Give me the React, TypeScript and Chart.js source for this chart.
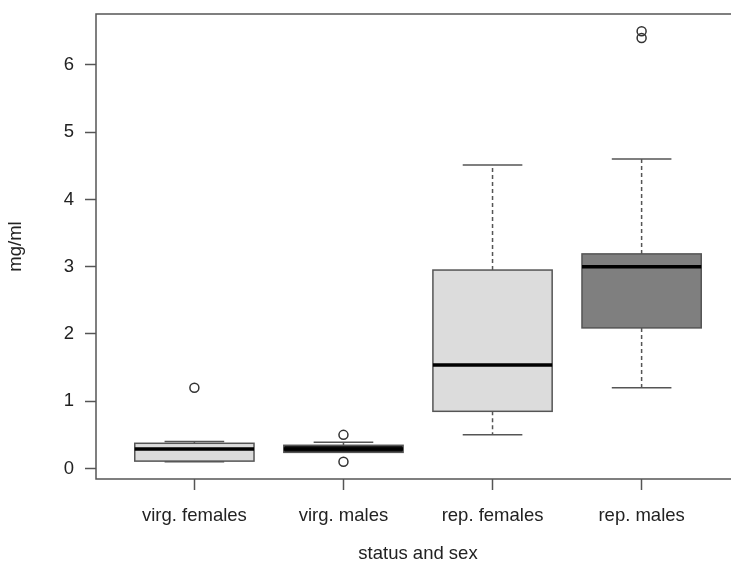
import { useEffect, useRef } from "react";
import { Chart, registerables } from "chart.js";

Chart.register(...registerables);

// ---- data ----
const categories = ["virg. females", "virg. males", "rep. females", "rep. males"];
const lowerWhisker = [0.1, 0.24, 0.5, 1.2];
const q1 = [0.11, 0.24, 0.85, 2.09];
const medians = [0.29, 0.29, 1.54, 3.0];
const q3 = [0.375, 0.345, 2.95, 3.19];
const upperWhisker = [0.4, 0.39, 4.51, 4.6];
const outliers = [[1.2], [0.5, 0.1], [], [6.4, 6.5]];
const boxFills = ["#dcdcdc", "#1c1c1c", "#dcdcdc", "#7f7f7f"];
const yTicks = [0, 1, 2, 3, 4, 5, 6];
const xTitle = "status and sex";
const yTitle = "mg/ml";

// ---- style ----
const FONT = "'Liberation Sans', Arial, Helvetica, sans-serif";
const FONT_SIZE = 18.5;
const LINE = "#555555";
const TEXT = "#222222";
const BOX_HALF = 0.4;
const CAP_HALF = 0.2;
const CANVAS_W = 746;
const CANVAS_H = 566;

const boxPlugin = {
  id: "boxplotDraw",
  beforeDatasetsDraw(chart: any) {
    const { ctx, scales, chartArea } = chart;
    const x = scales.x;
    const y = scales.y;
    ctx.save();
    // plot frame
    ctx.strokeStyle = LINE;
    ctx.lineWidth = 1.5;
    ctx.strokeRect(chartArea.left, chartArea.top, chartArea.right - chartArea.left, chartArea.bottom - chartArea.top);

    categories.forEach((_, i) => {
      const v = i + 1;
      const cx = x.getPixelForValue(v);
      const bl = x.getPixelForValue(v - BOX_HALF);
      const br = x.getPixelForValue(v + BOX_HALF);
      const cl = x.getPixelForValue(v - CAP_HALF);
      const cr = x.getPixelForValue(v + CAP_HALF);
      const pLo = y.getPixelForValue(lowerWhisker[i]);
      const pQ1 = y.getPixelForValue(q1[i]);
      const pMed = y.getPixelForValue(medians[i]);
      const pQ3 = y.getPixelForValue(q3[i]);
      const pHi = y.getPixelForValue(upperWhisker[i]);

      // whiskers (dashed)
      ctx.strokeStyle = LINE;
      ctx.lineWidth = 1.5;
      ctx.setLineDash([4, 3]);
      ctx.beginPath();
      ctx.moveTo(cx, pQ3);
      ctx.lineTo(cx, pHi);
      ctx.moveTo(cx, pQ1);
      ctx.lineTo(cx, pLo);
      ctx.stroke();
      ctx.setLineDash([]);

      // caps
      ctx.beginPath();
      ctx.moveTo(cl, pHi);
      ctx.lineTo(cr, pHi);
      ctx.moveTo(cl, pLo);
      ctx.lineTo(cr, pLo);
      ctx.stroke();

      // box
      ctx.fillStyle = boxFills[i];
      ctx.fillRect(bl, pQ3, br - bl, pQ1 - pQ3);
      ctx.strokeStyle = LINE;
      ctx.lineWidth = 1.5;
      ctx.strokeRect(bl, pQ3, br - bl, pQ1 - pQ3);

      // median
      ctx.strokeStyle = "#000000";
      ctx.lineWidth = 3.5;
      ctx.beginPath();
      ctx.moveTo(bl, pMed);
      ctx.lineTo(br, pMed);
      ctx.stroke();
    });
    ctx.restore();
  },
};

export default function App() {
  const canvasRef = useRef<HTMLCanvasElement | null>(null);

  useEffect(() => {
    const canvas = canvasRef.current;
    if (!canvas) return;

    const outlierPoints: { x: number; y: number }[] = [];
    outliers.forEach((list, i) => list.forEach((val) => outlierPoints.push({ x: i + 1, y: val })));

    const chart = new Chart(canvas, {
      type: "scatter",
      data: {
        datasets: [
          {
            label: "outliers",
            data: outlierPoints,
            pointStyle: "circle",
            pointRadius: 4.5,
            pointBackgroundColor: "rgba(0,0,0,0)",
            pointBorderColor: "#333333",
            pointBorderWidth: 1.5,
            showLine: false,
          },
        ],
      },
      options: {
        animation: false,
        responsive: false,
        maintainAspectRatio: false,
        layout: { padding: { top: 14, left: 0, right: 0, bottom: 0 } },
        plugins: {
          legend: { display: false },
          tooltip: { enabled: false },
          title: { display: false },
        },
        scales: {
          x: {
            type: "linear",
            min: 0.34,
            max: 4.66,
            afterBuildTicks: (scale: any) => {
              scale.ticks = categories.map((_, i) => ({ value: i + 1 }));
            },
            afterFit: (scale: any) => {
              scale.height = 87;
              scale.paddingLeft = 0;
              scale.paddingRight = 0;
            },
            ticks: {
              autoSkip: false,
              maxRotation: 0,
              minRotation: 0,
              padding: 15,
              color: TEXT,
              font: { family: FONT, size: FONT_SIZE },
              callback: (value: any) => categories[Number(value) - 1] ?? "",
            },
            grid: {
              display: true,
              drawOnChartArea: false,
              drawTicks: true,
              tickLength: 11,
              tickColor: LINE,
              tickWidth: 1.5,
            },
            border: { display: false },
            title: {
              display: true,
              text: xTitle,
              color: TEXT,
              font: { family: FONT, size: FONT_SIZE },
              padding: { top: 0, bottom: 1 },
            },
          },
          y: {
            type: "linear",
            min: -0.156,
            max: 6.756,
            afterBuildTicks: (scale: any) => {
              scale.ticks = yTicks.map((v) => ({ value: v }));
            },
            afterFit: (scale: any) => {
              scale.width = 96;
              scale.paddingTop = 0;
              scale.paddingBottom = 0;
            },
            ticks: {
              padding: 11,
              color: TEXT,
              font: { family: FONT, size: FONT_SIZE },
              callback: (value: any) => String(value),
            },
            grid: {
              display: true,
              drawOnChartArea: false,
              drawTicks: true,
              tickLength: 11,
              tickColor: LINE,
              tickWidth: 1.5,
            },
            border: { display: false },
            title: {
              display: true,
              text: yTitle,
              color: TEXT,
              font: { family: FONT, size: FONT_SIZE },
              padding: { top: 5, bottom: 0 },
            },
          },
        },
      },
      plugins: [boxPlugin],
    });

    return () => chart.destroy();
  }, []);

  return (
    <div
      style={{
        position: "fixed",
        left: 0,
        top: 0,
        width: 731,
        height: 566,
        background: "#ffffff",
        overflow: "hidden",
      }}
    >
      <div style={{ width: CANVAS_W, height: CANVAS_H, position: "relative" }}>
        <canvas
          ref={canvasRef}
          width={CANVAS_W}
          height={CANVAS_H}
          style={{ display: "block", width: CANVAS_W, height: CANVAS_H }}
        />
      </div>
    </div>
  );
}
